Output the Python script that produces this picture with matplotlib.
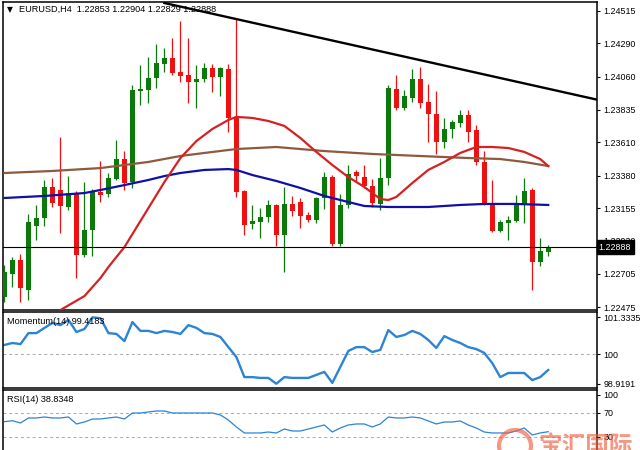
import matplotlib
matplotlib.use('Agg')
import matplotlib.pyplot as plt
from matplotlib.patches import Ellipse
from matplotlib.transforms import blended_transform_factory

plt.rcParams['font.family'] = ['Liberation Sans', 'DejaVu Sans']

# EURUSD H4 bars (oldest first)
opens = [1.22544, 1.22703, 1.22799, 1.22592, 1.23033, 1.23088, 1.23302, 1.23281, 1.23164, 1.23260,
         1.22833, 1.23005, 1.23267, 1.23253, 1.23357, 1.23494, 1.23336, 1.23963, 1.23969, 1.24052,
         1.24148, 1.24190, 1.24093, 1.24073, 1.24024, 1.24045, 1.24121, 1.24059, 1.24114, 1.23784,
         1.23274, 1.23047, 1.23061, 1.23095, 1.23178, 1.22971, 1.23185, 1.23198, 1.23109, 1.23074,
         1.23226, 1.23370, 1.22909, 1.23178, 1.23405, 1.23370, 1.23308, 1.23185, 1.23364, 1.23976,
         1.23845, 1.23914, 1.24045, 1.23887, 1.23804, 1.23611, 1.23701, 1.23742, 1.23797, 1.23694,
         1.23474, 1.23185, 1.22999, 1.23054, 1.23067, 1.23178, 1.23281, 1.22785, 1.22853]
highs = [1.22765, 1.22820, 1.22840, 1.23116, 1.23178, 1.23350, 1.23364, 1.23646, 1.23377, 1.23274,
         1.23336, 1.23288, 1.23481, 1.23398, 1.23625, 1.23549, 1.24004, 1.24142, 1.24197, 1.24286,
         1.24259, 1.24327, 1.24444, 1.24327, 1.24142, 1.24155, 1.24148, 1.24128, 1.24148, 1.24458,
         1.23281, 1.23178, 1.23157, 1.23212, 1.23185, 1.23302, 1.23240, 1.23226, 1.23129, 1.23233,
         1.23405, 1.23384, 1.23253, 1.23453, 1.23419, 1.23453, 1.23357, 1.23501, 1.24004, 1.24073,
         1.23969, 1.24114, 1.24128, 1.24011, 1.23963, 1.23777, 1.23763, 1.23832, 1.23832, 1.23728,
         1.23549, 1.23350, 1.23074, 1.23102, 1.23246, 1.23364, 1.23295, 1.22950, 1.22904]
lows = [1.22510, 1.22613, 1.22510, 1.22524, 1.22937, 1.23033, 1.23164, 1.22985, 1.23143, 1.22675,
        1.22820, 1.22826, 1.23198, 1.23233, 1.23350, 1.23281, 1.23295, 1.23866, 1.23880, 1.23983,
        1.24093, 1.24073, 1.24024, 1.23880, 1.23845, 1.24024, 1.23956, 1.23928, 1.23680, 1.23233,
        1.22971, 1.23012, 1.22950, 1.23061, 1.22895, 1.22716, 1.23102, 1.23019, 1.23061, 1.23054,
        1.23150, 1.22895, 1.22895, 1.23157, 1.23343, 1.23295, 1.23164, 1.23143, 1.23315, 1.23832,
        1.23832, 1.23887, 1.23845, 1.23611, 1.23529, 1.23570, 1.23639, 1.23715, 1.23611, 1.23453,
        1.23178, 1.22992, 1.22992, 1.22937, 1.23061, 1.23054, 1.22592, 1.22758, 1.22829]
closes = [1.22716, 1.22799, 1.22606, 1.23061, 1.23088, 1.23302, 1.23191, 1.23171, 1.23260, 1.22833,
          1.23005, 1.23267, 1.23246, 1.23364, 1.23494, 1.23329, 1.23969, 1.23976, 1.24052, 1.24155,
          1.24190, 1.24086, 1.24066, 1.24024, 1.24045, 1.24121, 1.24059, 1.24121, 1.23777, 1.23267,
          1.23040, 1.23067, 1.23095, 1.23178, 1.22971, 1.23185, 1.23136, 1.23102, 1.23074, 1.23226,
          1.23370, 1.22909, 1.23178, 1.23391, 1.23377, 1.23308, 1.23191, 1.23364, 1.23983, 1.23845,
          1.23928, 1.24045, 1.23880, 1.23804, 1.23611, 1.23701, 1.23749, 1.23797, 1.23680, 1.23474,
          1.23185, 1.22999, 1.23061, 1.23074, 1.23178, 1.23274, 1.22785, 1.22861, 1.22888]

# moving averages, sampled at some bar indices
red_ma_idx = [6, 7, 10, 12, 13, 14, 15, 18, 20, 22, 24, 26, 28, 29, 31, 33, 35, 37, 39, 41,
              43, 45, 47, 48, 49, 51, 53, 55, 57, 59, 61, 63, 65, 67, 68]
red_ma = [1.22400, 1.22455, 1.22551, 1.22675, 1.22751, 1.22820, 1.22888, 1.23157, 1.23336, 1.23501,
          1.23618, 1.23701, 1.23763, 1.23784, 1.23777, 1.23756, 1.23722, 1.23639, 1.23543, 1.23453,
          1.23370, 1.23302, 1.23219, 1.23212, 1.23233, 1.23329, 1.23419, 1.23474, 1.23536, 1.23577,
          1.23577, 1.23570, 1.23543, 1.23494, 1.23446]
blue_ma_idx = [0, 5, 10, 12, 15, 18, 20, 22, 25, 28, 29, 31, 34, 37, 40, 42, 45, 48, 53, 57, 60, 64, 68]
blue_ma = [1.23226, 1.23240, 1.23260, 1.23281, 1.23315, 1.23350, 1.23377, 1.23398, 1.23419, 1.23425,
           1.23419, 1.23384, 1.23343, 1.23295, 1.23240, 1.23212, 1.23171, 1.23164, 1.23164, 1.23178,
           1.23185, 1.23185, 1.23178]
brown_ma_idx = [0, 6, 12, 18, 22, 25, 29, 34, 40, 46, 52, 58, 62, 65, 68]
brown_ma = [1.23398, 1.23412, 1.23432, 1.23474, 1.23515, 1.23536, 1.23563, 1.23577, 1.23549, 1.23529,
            1.23515, 1.23501, 1.23494, 1.23474, 1.23446]

# descending trendline anchors
trend_idx = [20, 74.25]
trend_px = [1.24568, 1.23901]

momentum = [100.33, 100.40, 100.36, 100.76, 100.76, 100.95, 101.13, 101.05, 101.24, 100.80,
            100.91, 101.3335, 101.30, 100.76, 100.73, 100.47, 101.16, 100.84, 100.84, 100.76,
            100.84, 100.80, 100.73, 101.05, 100.95, 100.76, 100.73, 100.62, 100.25, 99.89,
            99.16, 99.16, 99.13, 99.13, 98.9191, 99.16, 99.13, 99.13, 99.13, 99.24,
            99.35, 98.95, 99.53, 100.11, 100.25, 100.25, 100.07, 100.15, 100.87, 100.62,
            100.69, 100.84, 100.73, 100.51, 100.22, 100.65, 100.51, 100.40, 100.25, 100.18,
            100.04, 99.67, 99.16, 99.31, 99.31, 99.31, 99.05, 99.16, 99.4183]
rsi = [55.5, 57.2, 53.3, 61.7, 61.7, 63.3, 61.7, 61.7, 63.3, 51.7,
       55.0, 60.0, 60.0, 61.7, 63.3, 60.0, 70.0, 70.0, 71.7, 73.3,
       73.3, 70.0, 70.0, 70.0, 70.0, 70.0, 70.0, 66.7, 58.3, 46.7,
       36.7, 36.7, 36.7, 38.3, 36.7, 43.3, 40.0, 40.0, 43.3, 46.7,
       50.0, 38.3, 45.0, 50.0, 51.7, 51.7, 46.7, 51.7, 63.3, 61.7,
       61.7, 63.3, 61.7, 56.7, 51.7, 55.0, 55.0, 56.7, 50.0, 45.0,
       38.3, 36.7, 36.7, 36.7, 40.0, 45.0, 33.3, 36.7, 38.8348]

price_ticks = [1.24515, 1.24290, 1.24060, 1.23835, 1.23610, 1.23380, 1.23155, 1.22930, 1.22705, 1.22475]
mom_ticks = [98.9191, 100, 101.3335]
rsi_ticks = [30, 70, 100]

GREEN = '#0b7a0b'
RED = '#ee1111'
TICK_FS = 6.4

fig = plt.figure(figsize=(6.4, 4.5), dpi=100)
fig.patch.set_facecolor('white')

W, H = 640.0, 450.0
left = 2.5 / W
width = (597 - 2.5) / W
ax = fig.add_axes([left, 1 - 310 / H, width, 308 / H])
ax_m = fig.add_axes([left, 1 - 388 / H, width, 76 / H])
ax_r = fig.add_axes([left, 0, width, 60 / H])

xs = list(range(len(opens)))
xlim = (-0.25, 74.1)


def style_panel(a, ticks, labels):
    a.set_xlim(*xlim)
    a.set_xticks([])
    a.yaxis.tick_right()
    a.set_yticks(ticks)
    a.set_yticklabels(labels)
    a.tick_params(axis='y', direction='out', length=2.5, width=0.8, pad=2,
                  labelsize=TICK_FS, colors='black')
    for s in a.spines.values():
        s.set_linewidth(1.1)
        s.set_color('black')


# --- price panel ---
for i in xs:
    o, h, l, c = opens[i], highs[i], lows[i], closes[i]
    col = GREEN if c >= o else RED
    ax.vlines(i, l, h, colors=col, lw=0.9, zorder=2)
    body = max(abs(c - o), 0.00004)
    ax.bar(i, body, bottom=min(o, c), width=0.62, color=col, linewidth=0, zorder=3)

ax.plot(brown_ma_idx, brown_ma, color='#8e5a3e', lw=1.6, zorder=4)
ax.plot(blue_ma_idx, blue_ma, color='#1010a8', lw=1.6, zorder=4)
ax.plot(red_ma_idx, red_ma, color='#d42222', lw=1.6, zorder=4)
ax.plot(trend_idx, trend_px, color='black', lw=1.7, zorder=5)
ax.axhline(closes[-1], color='black', lw=0.8, zorder=5)

ax.set_ylim(1.22455, 1.24575)
style_panel(ax, price_ticks, [f'{t:.5f}' for t in price_ticks])

trans = blended_transform_factory(ax.transAxes, ax.transData)
ax.text(1.003, closes[-1], f'{closes[-1]:.5f}', transform=trans, ha='left', va='center',
        fontsize=TICK_FS, color='white', zorder=10, clip_on=False,
        bbox=dict(facecolor='black', edgecolor='black', pad=1.6))

ax.text(0.008, 0.975, '\u25bc', transform=ax.transAxes, ha='left', va='center',
        fontsize=5.5, family=['DejaVu Sans'])
ax.text(0.027, 0.975, f'EURUSD,H4  {opens[-1]:.5f} {highs[-1]:.5f} {lows[-1]:.5f} {closes[-1]:.5f}',
        transform=ax.transAxes, ha='left', va='center', fontsize=6.6)

# --- momentum panel ---
ax_m.axhline(100, color='#a8a8a8', lw=0.7, ls=(0, (3, 3)))
ax_m.plot(xs, momentum, color='#2b84d4', lw=1.7)
ax_m.set_ylim(98.764, 101.527)
style_panel(ax_m, mom_ticks, ['98.9191', '100', '101.3335'])
ax_m.text(0.008, 0.93, f'Momentum(14) {momentum[-1]:.4f}', transform=ax_m.transAxes,
          ha='left', va='top', fontsize=6.6)

# --- RSI panel ---
for lvl in (70, 30):
    ax_r.axhline(lvl, color='#a8a8a8', lw=0.7, ls=(0, (3, 3)))
ax_r.plot(xs, rsi, color='#2b84d4', lw=0.9)
ax_r.set_ylim(8.33, 108.3)
style_panel(ax_r, rsi_ticks, ['30', '70', '100'])
ax_r.spines['bottom'].set_visible(False)
ax_r.text(0.008, 0.85, f'RSI(14) {rsi[-1]:.4f}', transform=ax_r.transAxes,
          ha='left', va='center', fontsize=6.6)

# watermark
wm_col = '#f0603f'
fig.add_artist(Ellipse((515 / W, 4 / H), 32 / W, 32 / H, transform=fig.transFigure,
                       fill=False, edgecolor=wm_col, lw=3.0, alpha=0.65, zorder=20))
fig.text(538 / W, 4 / H, '宝汇国际', ha='left', va='center', fontsize=17, color=wm_col,
         alpha=0.65, fontweight='bold', family=['Noto Sans CJK SC', 'DejaVu Sans'], zorder=20)

fig.savefig('out.png', dpi=100, facecolor='white')
